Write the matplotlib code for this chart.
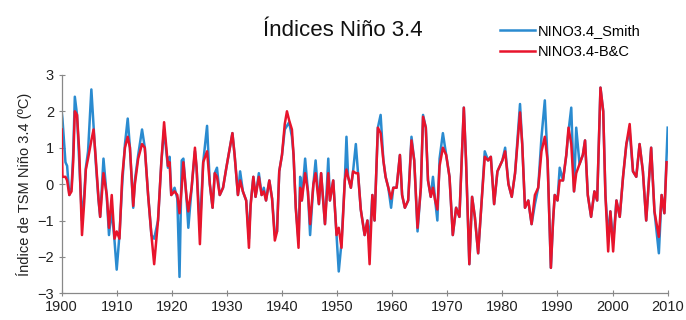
"""
Índices Niño 3.4: Smith vs B&C reconstructions, 1900-2010.
Values read off the reference chart (about twice a year at turning points).
"""

import numpy as np
import matplotlib
matplotlib.use("Agg")
import matplotlib.pyplot as plt
from matplotlib import font_manager

# ── Data ────────────────────────────────────────────────────────────────────
years = [
    1900.0, 1900.15, 1900.7, 1901.0, 1901.4, 1901.8, 1902.1, 1902.4, 1902.8, 1903.2,
    1903.7, 1904.1, 1904.4, 1904.8, 1905.4, 1905.8, 1906.2, 1906.7, 1907.0, 1907.6,
    1908.2, 1908.6, 1909.1, 1909.6, 1910.0, 1910.5, 1911.0, 1911.5, 1912.0, 1912.4,
    1913.0, 1913.3, 1913.9, 1914.6, 1915.1, 1915.7, 1916.3, 1916.8, 1917.5, 1918.1,
    1918.6, 1919.3, 1919.6, 1919.9, 1920.5, 1921.0, 1921.4, 1921.8, 1922.1, 1922.7,
    1923.0, 1923.6, 1924.2, 1924.5, 1925.1, 1925.7, 1926.4, 1926.9, 1927.4, 1927.8,
    1928.2, 1928.7, 1929.3, 1929.9, 1931.0, 1931.4, 1932.0, 1932.4, 1932.9, 1933.5,
    1934.0, 1934.3, 1934.8, 1935.2, 1935.8, 1936.3, 1936.7, 1937.1, 1937.7, 1938.2,
    1938.7, 1939.1, 1939.5, 1940.0, 1940.5, 1940.9, 1941.3, 1941.8, 1942.1, 1942.5,
    1943.0, 1943.3, 1943.6, 1944.2, 1944.7, 1945.1, 1945.7, 1946.1, 1946.7, 1947.1,
    1947.8, 1948.4, 1948.7, 1949.3, 1949.9, 1950.3, 1950.8, 1951.4, 1951.7, 1952.0,
    1952.5, 1952.9, 1953.4, 1953.8, 1954.3, 1955.0, 1955.5, 1955.9, 1956.4, 1956.8,
    1957.4, 1957.9, 1958.4, 1958.8, 1959.3, 1959.8, 1960.2, 1960.8, 1961.4, 1961.8,
    1962.3, 1962.9, 1963.5, 1964.0, 1964.6, 1965.2, 1965.6, 1966.1, 1966.5, 1967.0,
    1967.4, 1967.8, 1968.2, 1968.6, 1969.2, 1969.8, 1970.4, 1971.0, 1971.6, 1972.2,
    1973.0, 1973.4, 1974.0, 1974.5, 1975.0, 1975.6, 1976.2, 1976.8, 1977.4, 1977.9,
    1978.5, 1979.1, 1980.0, 1980.5, 1981.1, 1981.7, 1982.3, 1983.2, 1983.6, 1984.1,
    1984.7, 1985.3, 1985.9, 1986.5, 1987.1, 1987.7, 1988.2, 1988.8, 1989.2, 1989.5,
    1990.0, 1990.4, 1991.0, 1991.6, 1992.0, 1992.5, 1993.0, 1993.4, 1994.0, 1994.6,
    1995.0, 1995.5, 1996.1, 1996.7, 1997.2, 1997.8, 1998.3, 1998.7, 1999.2, 1999.6,
    2000.1, 2000.7, 2001.3, 2001.9, 2002.5, 2003.1, 2003.7, 2004.3, 2004.9, 2005.5,
    2006.1, 2007.0, 2007.6, 2008.4, 2008.9, 2009.4, 2009.8, 2010.0,
]

smith = [
    2.0, 1.8, 0.6, 0.5, -0.3, -0.1, 0.8, 2.4, 1.9, 0.6,
    -1.0, -0.3, 0.45, 0.9, 2.6, 1.6, 0.6, -0.45, -0.9, 0.7,
    -0.35, -1.4, -0.7, -1.55, -2.35, -1.4, 0.0, 1.1, 1.8, 1.0,
    -0.65, 0.1, 0.8, 1.5, 1.0, -0.3, -1.4, -1.5, -1.0, 0.6,
    1.5, 0.45, 0.75, -0.3, -0.1, -0.4, -2.55, 0.65, 0.7, -0.45,
    -1.2, -0.1, 0.9, 0.45, -1.2, 0.6, 1.6, 0.0, -0.65, 0.3,
    0.45, -0.3, -0.1, 0.45, 1.4, 0.8, -0.3, 0.35, -0.2, -0.45,
    -1.5, -0.55, 0.2, -0.35, 0.3, -0.3, -0.1, -0.45, 0.1, -0.4,
    -1.4, -1.3, 0.35, 0.8, 1.5, 1.6, 1.7, 1.3, 0.8, -0.65,
    -1.55, 0.2, -0.45, 0.7, -0.2, -1.4, 0.0, 0.65, -0.55, 0.3,
    -1.1, 0.7, -0.45, 0.1, -1.4, -2.4, -1.6, 0.1, 1.3, 0.2,
    -0.1, 0.35, 1.1, 0.3, -0.7, -1.4, -1.0, -1.6, -0.3, -1.0,
    1.55, 1.9, 0.65, 0.2, -0.1, -0.65, -0.1, -0.1, 0.8, -0.3,
    -0.65, -0.45, 1.3, 0.65, -1.3, -0.1, 1.9, 1.55, 0.1, -0.35,
    0.2, -0.45, -1.0, 0.7, 1.4, 0.8, 0.2, -1.4, -0.65, -0.9,
    2.1, 0.65, -2.2, -0.35, -0.9, -1.9, -0.55, 0.9, 0.65, 0.75,
    -0.55, 0.35, 0.65, 1.0, 0.0, -0.35, 0.3, 2.2, 1.1, -0.65,
    -0.45, -1.1, -0.55, -0.1, 1.3, 2.3, 0.65, -2.3, -1.0, -0.3,
    -0.45, 0.45, 0.1, 0.8, 1.45, 2.1, -0.2, 1.55, 0.55, 0.8,
    1.2, -0.3, -0.9, -0.2, -0.45, 2.65, 2.0, -0.3, -1.45, -0.75,
    -1.6, -0.45, -0.9, 0.2, 1.1, 1.45, 0.35, 0.2, 1.1, 0.35,
    -1.0, 1.0, -0.75, -1.9, -0.3, -0.8, 0.8, 1.55,
]

bc = [
    1.5, 0.2, 0.2, 0.1, -0.3, -0.2, 0.6, 2.0, 1.9, 0.9,
    -1.4, -0.5, 0.4, 0.7, 1.2, 1.5, 0.7, -0.4, -0.9, 0.3,
    -0.3, -1.2, -0.3, -1.5, -1.3, -1.5, 0.2, 1.0, 1.3, 1.0,
    -0.6, 0.0, 0.7, 1.1, 1.0, -0.3, -1.4, -2.2, -1.0, 0.6,
    1.7, 0.5, 0.6, -0.3, -0.2, -0.3, -0.8, -0.1, 0.6, -0.4,
    -0.75, -0.1, 1.0, 0.45, -1.65, 0.6, 0.9, 0.0, -0.65, 0.3,
    0.2, -0.3, -0.1, 0.45, 1.4, 0.8, -0.3, 0.1, -0.2, -0.45,
    -1.75, -0.6, 0.2, -0.35, 0.2, -0.3, -0.2, -0.45, 0.1, -0.4,
    -1.55, -1.3, 0.35, 0.8, 1.65, 2.0, 1.75, 1.5, 0.8, -0.65,
    -1.75, -0.1, -0.45, 0.3, -0.2, -1.1, 0.0, 0.3, -0.55, 0.3,
    -1.1, 0.3, -0.45, 0.1, -1.4, -1.2, -1.75, 0.1, 0.4, 0.2,
    -0.1, 0.35, 0.3, 0.3, -0.7, -1.4, -1.0, -2.2, -0.3, -1.0,
    1.55, 1.4, 0.65, 0.2, -0.1, -0.4, -0.1, -0.1, 0.8, -0.3,
    -0.65, -0.45, 1.2, 0.65, -1.2, -0.1, 1.85, 1.55, 0.1, -0.35,
    -0.1, -0.45, -0.7, 0.5, 1.0, 0.8, 0.2, -1.4, -0.65, -0.9,
    2.1, 0.65, -2.2, -0.35, -0.9, -1.9, -0.55, 0.75, 0.65, 0.75,
    -0.55, 0.35, 0.65, 0.9, 0.0, -0.35, 0.3, 1.97, 1.1, -0.65,
    -0.45, -1.1, -0.3, -0.1, 0.9, 1.3, 0.65, -2.3, -1.0, -0.3,
    -0.45, 0.1, 0.1, 0.8, 1.55, 1.1, -0.2, 0.3, 0.55, 0.8,
    1.2, -0.3, -0.9, -0.2, -0.45, 2.65, 2.0, -0.3, -1.85, -0.75,
    -1.85, -0.45, -0.9, 0.2, 1.1, 1.65, 0.35, 0.2, 1.1, 0.35,
    -1.0, 1.0, -0.75, -1.45, -0.3, -0.8, 0.6, np.nan,
]

# ── Fonts ───────────────────────────────────────────────────────────────────
installed = {f.name for f in font_manager.fontManager.ttflist}
narrow = "Liberation Sans Narrow" if "Liberation Sans Narrow" in installed else "Liberation Sans"
plt.rcParams["font.family"] = [narrow, "DejaVu Sans"]

blue = "#2a8bd0"
red = "#e8142c"

# ── Plot ─────────────────────────────────────────────────────────────────────
fig = plt.figure(figsize=(6.86, 3.2), dpi=100)
ax = fig.add_axes([0.0898, 0.0834, 0.8835, 0.6826])

l1, = ax.plot(years, smith, color=blue, linewidth=1.8, label="NINO3.4_Smith", zorder=2)
l2, = ax.plot(years, bc, color=red, linewidth=1.8, label="NINO3.4-B&C", zorder=3)

ax.set_xlim(1900, 2010)
ax.set_ylim(-3, 3)
ax.set_xticks(np.arange(1900, 2011, 10))
ax.set_yticks(np.arange(-3, 4, 1))
ax.tick_params(axis="both", direction="inout", length=5, width=0.8,
               color="#888888", labelsize=10.5, labelcolor="#222222")
ax.tick_params(axis="x", pad=2)
ax.tick_params(axis="y", pad=3)

for side in ("top", "right"):
    ax.spines[side].set_visible(False)
for side in ("left", "bottom"):
    ax.spines[side].set_color("#888888")
    ax.spines[side].set_linewidth(0.9)

ax.set_ylabel("Índice de TSM Niño 3.4 (ºC)", fontsize=10.5, color="#222222", labelpad=4)

fig.text(0.5, 0.905, "Índices Niño 3.4", ha="center", va="center", fontsize=16, color="#111111")

fig.legend(handles=[l1, l2], loc="center left", bbox_to_anchor=(0.72, 0.87),
           frameon=False, fontsize=10.5, handlelength=2.4, handletextpad=0.2,
           labelspacing=0.5, borderaxespad=0)

fig.savefig("out.png", dpi=100)
